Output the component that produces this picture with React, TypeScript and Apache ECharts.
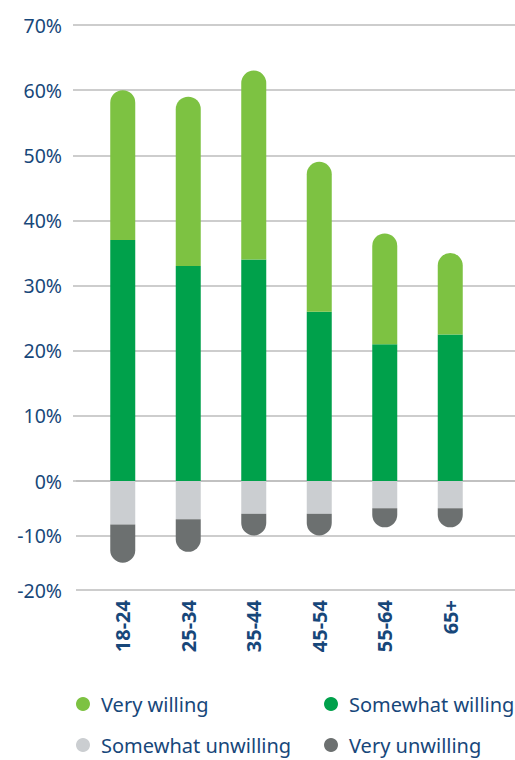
import { useEffect, useRef } from 'react';
import * as echarts from 'echarts';

const categories = ['18-24', '25-34', '35-44', '45-54', '55-64', '65+'];
const somewhatWilling = [37, 33, 34, 26, 21, 22.5];
const veryWilling = [23, 26, 29, 23, 17, 12.5];
const somewhatUnwilling = [-8, -7, -6, -6, -5, -5];
const veryUnwilling = [-7, -6, -4, -4, -3.5, -3.5];
const seriesNames = ['Very willing', 'Somewhat willing', 'Somewhat unwilling', 'Very unwilling'];

const TEXT = '#17477a';
const FONT = '"Noto Sans", sans-serif';
const GRID_LINE = { color: '#bdbdbd', width: 1.5 };

export default function App() {
  const ref = useRef<HTMLDivElement>(null);
  useEffect(() => {
    if (!ref.current) return;
    const chart = echarts.init(ref.current, undefined, { renderer: 'svg' });
    const pct = (v: number) => `${v}%`;
    const legendPos = [
      { left: 76, top: 694 },
      { left: 324, top: 694 },
      { left: 76, top: 735 },
      { left: 324, top: 735 },
    ];
    const option: any = {
      animation: false,
      textStyle: { fontFamily: FONT },
      grid: [
        { left: 73, right: 0, top: 25, height: 456 },
        { left: 76, right: 0, top: 481, height: 109 },
        { left: 90, width: 393, top: 25, height: 456 },
        { left: 90, width: 393, top: 481, height: 109 },
      ],
      xAxis: [
        { gridIndex: 0, type: 'category', data: categories, show: false },
        { gridIndex: 1, type: 'category', data: categories, show: false },
        { gridIndex: 2, type: 'category', data: categories, show: false },
        {
          gridIndex: 3,
          type: 'category',
          data: categories,
          axisLine: { show: false },
          axisTick: { show: false },
          axisLabel: {
            rotate: 90,
            margin: 10,
            fontWeight: 'bold',
            fontSize: 20,
            color: TEXT,
            fontFamily: FONT,
          },
        },
      ],
      yAxis: [
        {
          gridIndex: 0,
          type: 'value',
          min: 0,
          max: 70,
          interval: 10,
          axisLine: { show: false },
          axisTick: { show: false },
          axisLabel: { formatter: pct, margin: 11, fontSize: 19.5, color: TEXT, fontFamily: FONT },
          splitLine: { show: true, lineStyle: GRID_LINE },
        },
        {
          gridIndex: 1,
          type: 'value',
          min: -20,
          max: 0,
          interval: 10,
          axisLine: { show: false },
          axisTick: { show: false },
          axisLabel: {
            formatter: (v: number) => (v === 0 ? '' : pct(v)),
            margin: 14,
            fontSize: 19.5,
            color: TEXT,
            fontFamily: FONT,
          },
          splitLine: { show: true, lineStyle: GRID_LINE },
        },
        { gridIndex: 2, type: 'value', min: 0, max: 70, show: false, splitLine: { show: false } },
        { gridIndex: 3, type: 'value', min: -20, max: 0, show: false, splitLine: { show: false } },
      ],
      legend: seriesNames.map((name, i) => ({
        data: [name],
        icon: 'circle',
        itemWidth: 26,
        itemHeight: 14,
        padding: 0,
        left: legendPos[i].left,
        top: legendPos[i].top,
        textStyle: { fontSize: 20, color: TEXT, fontFamily: FONT },
        selectedMode: false,
      })),
      series: [
        {
          name: 'Somewhat willing',
          type: 'bar',
          xAxisIndex: 2,
          yAxisIndex: 2,
          stack: 'pos',
          barWidth: 25,
          data: somewhatWilling,
          itemStyle: { color: '#00a14b' },
        },
        {
          name: 'Very willing',
          type: 'bar',
          xAxisIndex: 2,
          yAxisIndex: 2,
          stack: 'pos',
          barWidth: 25,
          data: veryWilling,
          itemStyle: { color: '#7dc242', borderRadius: [12.5, 12.5, 0, 0] },
        },
        {
          name: 'Somewhat unwilling',
          type: 'bar',
          xAxisIndex: 3,
          yAxisIndex: 3,
          stack: 'neg',
          barWidth: 25,
          data: somewhatUnwilling,
          itemStyle: { color: '#cbced1' },
        },
        {
          name: 'Very unwilling',
          type: 'bar',
          xAxisIndex: 3,
          yAxisIndex: 3,
          stack: 'neg',
          barWidth: 25,
          data: veryUnwilling,
          itemStyle: { color: '#6c7070', borderRadius: [0, 0, 12.5, 12.5] },
        },
      ],
    };
    chart.setOption(option);
    return () => chart.dispose();
  }, []);
  return (
    <div
      ref={ref}
      style={{ position: 'fixed', left: 0, top: 0, width: 515, height: 760, background: '#fff' }}
    />
  );
}
